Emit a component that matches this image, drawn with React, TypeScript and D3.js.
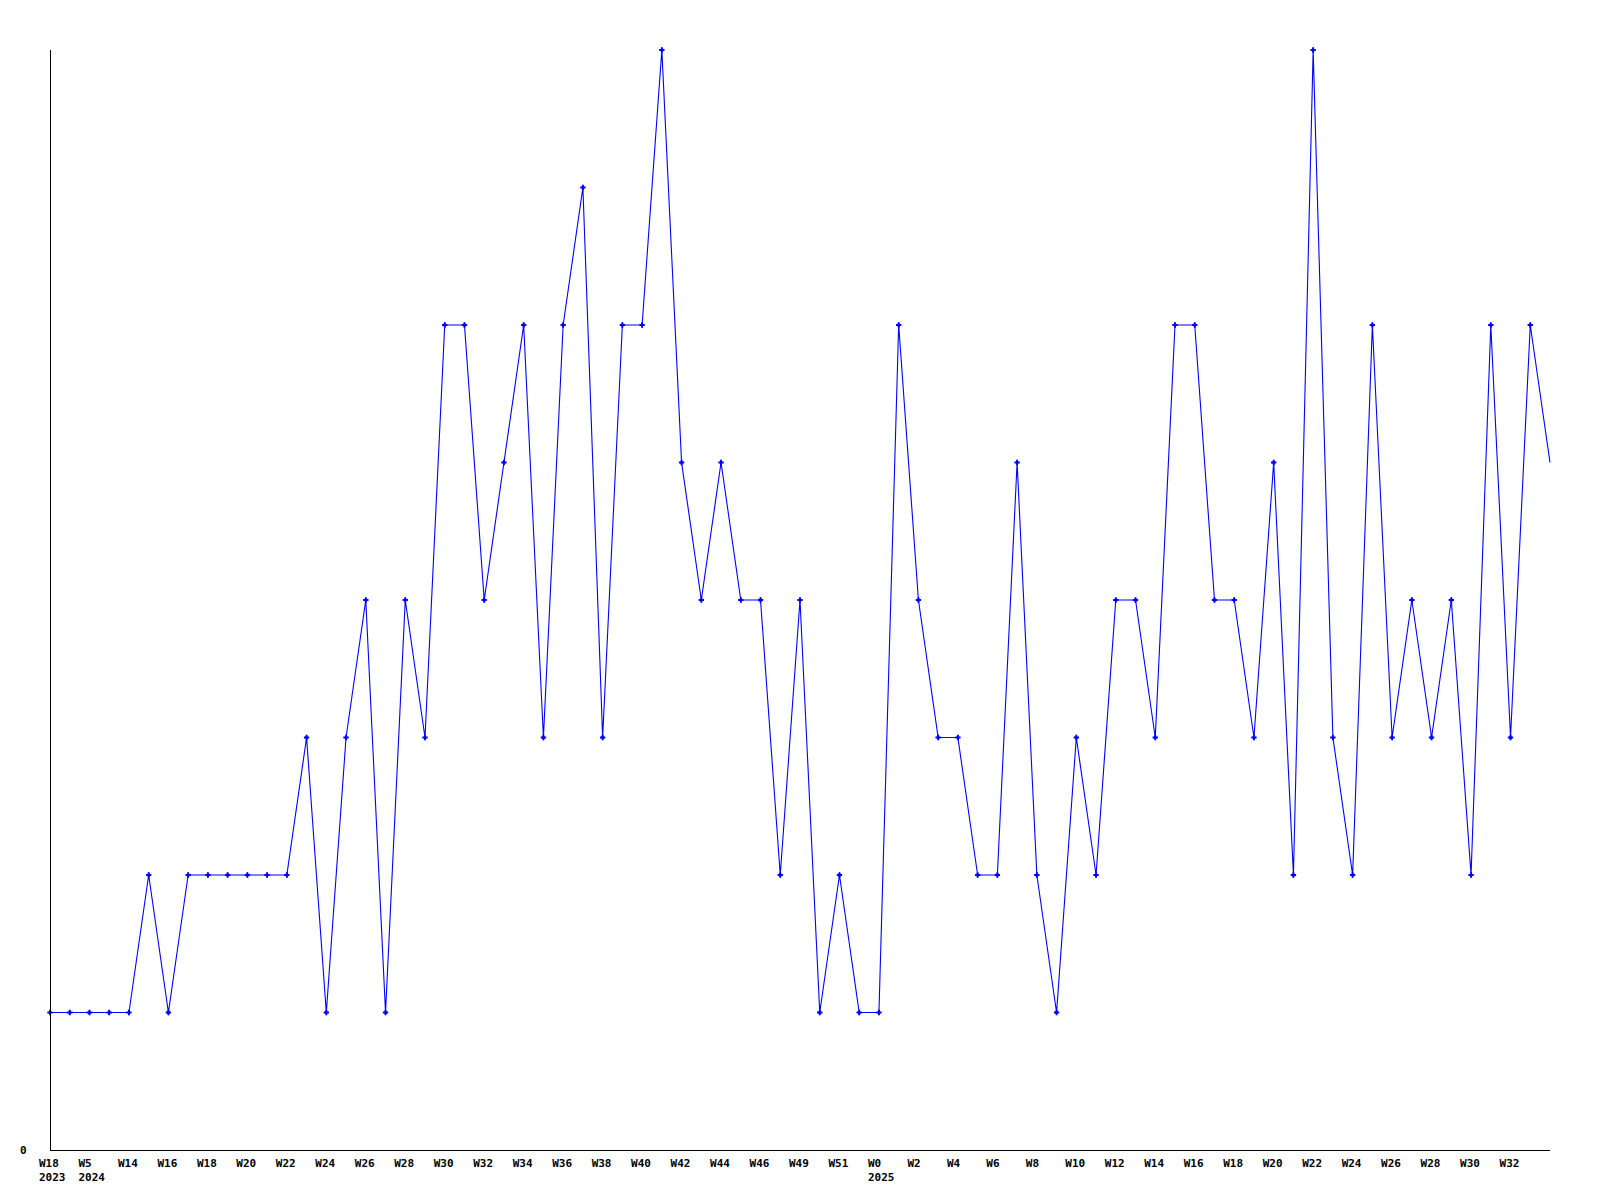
import React from "react";
import * as d3 from "d3";

const weeks: string[] = [
  "W18", "W19", "W5", "W13", "W14", "W15", "W16", "W17", "W18", "W19",
  "W20", "W21", "W22", "W23", "W24", "W25", "W26", "W27", "W28", "W29",
  "W30", "W31", "W32", "W33", "W34", "W35", "W36", "W37", "W38", "W39",
  "W40", "W41", "W42", "W43", "W44", "W45", "W46", "W48", "W49", "W50",
  "W51", "W52", "W0", "W1", "W2", "W3", "W4", "W5", "W6", "W7",
  "W8", "W9", "W10", "W11", "W12", "W13", "W14", "W15", "W16", "W17",
  "W18", "W19", "W20", "W21", "W22", "W23", "W24", "W25", "W26", "W27",
  "W28", "W29", "W30", "W31", "W32", "W33", "W34",
];

const years: string[] = [
  "2023", "", "2024", "", "", "", "", "", "", "",
  "", "", "", "", "", "", "", "", "", "",
  "", "", "", "", "", "", "", "", "", "",
  "", "", "", "", "", "", "", "", "", "",
  "", "", "2025", "", "", "", "", "", "", "",
  "", "", "", "", "", "", "", "", "", "",
  "", "", "", "", "", "", "", "", "", "",
  "", "", "", "", "", "", "",
];

const values: number[] = [
  1, 1, 1, 1, 1, 2, 1, 2, 2, 2,
  2, 2, 2, 3, 1, 3, 4, 1, 4, 3,
  6, 6, 4, 5, 6, 3, 6, 7, 3, 6,
  6, 8, 5, 4, 5, 4, 4, 2, 4, 1,
  2, 1, 1, 6, 4, 3, 3, 2, 2, 5,
  2, 1, 3, 2, 4, 4, 3, 6, 6, 4,
  4, 3, 5, 2, 8, 3, 2, 6, 3, 4,
  3, 4, 2, 6, 3, 6, 5,
];

const yTicks: number[] = [0];
const yMax = 8;

export default function App() {
  const W = 1600;
  const H = 1200;
  const left = 50;
  const right = 1550;
  const top = 50;
  const bottom = 1150;

  const idx = values.map((_, i) => i);
  const x = d3.scalePoint<number>().domain(idx).range([left, right]);
  const y = d3.scaleLinear().domain([0, yMax]).range([bottom, top]);

  const line = d3
    .line<number>()
    .x((_, i) => x(i) as number)
    .y((d) => y(d));

  const cross = d3.symbol().type(d3.symbolCross).size(16)() as string;
  const diamond = d3.symbol().type(d3.symbolDiamond).size(10)() as string;

  const font = "'DejaVu Sans Mono', monospace";

  return (
    <svg
      width={W}
      height={H}
      style={{ position: "absolute", left: 0, top: 0, background: "#fff" }}
    >
      <rect x={0} y={0} width={W} height={H} fill="#fff" />
      <path
        d={line(values) || ""}
        fill="none"
        stroke="#0000ff"
        strokeWidth={1.1}
      />
      {values.slice(0, values.length - 1).map((v, i) => (
        <g key={i} transform={`translate(${x(i)},${y(v)})`} fill="#0000ff">
          <path d={cross} />
          <path d={diamond} />
        </g>
      ))}
      <g shapeRendering="crispEdges">
        <line x1={left} x2={left} y1={top} y2={bottom} stroke="#000" strokeWidth={1} />
        <line x1={left} x2={right} y1={bottom} y2={bottom} stroke="#000" strokeWidth={1} />
      </g>
      {yTicks.map((t) => (
        <text
          key={t}
          x={20}
          y={y(t) + 4}
          fontFamily={font}
          fontWeight="bold"
          fontSize={11}
          fill="#000"
        >
          {t}
        </text>
      ))}
      {idx
        .filter((i) => i % 2 === 0 && i < values.length - 1)
        .map((i) => (
          <g key={i}>
            <text
              x={(x(i) as number) - 11}
              y={1167}
              fontFamily={font}
              fontWeight="bold"
              fontSize={11}
              fill="#000"
            >
              {weeks[i]}
            </text>
            {years[i] ? (
              <text
                x={(x(i) as number) - 11}
                y={1181}
                fontFamily={font}
                fontWeight="bold"
                fontSize={11}
                fill="#000"
              >
                {years[i]}
              </text>
            ) : null}
          </g>
        ))}
    </svg>
  );
}
